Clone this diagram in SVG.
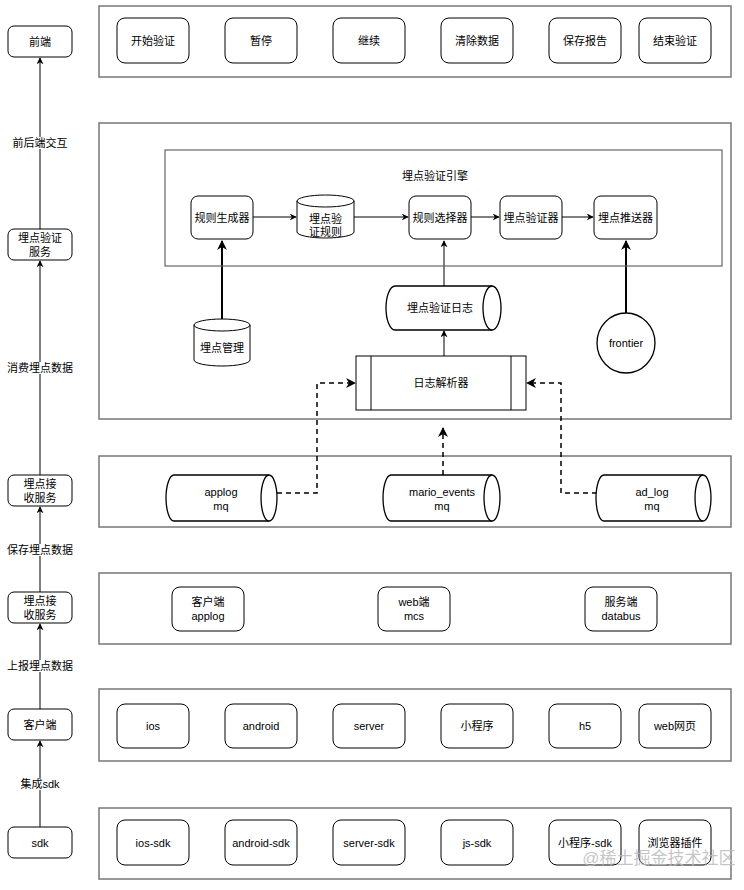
<svg xmlns="http://www.w3.org/2000/svg" width="744" height="890" viewBox="0 0 744 890">
<style>
text{font-family:"Liberation Sans","Noto Sans CJK SC",sans-serif;font-size:11px;fill:#000;text-anchor:middle;dominant-baseline:central}
.panel{fill:#fff;stroke:#777;stroke-width:1.5}
.node{fill:#fff;stroke:#000;stroke-width:1}
.shape{fill:#fff;stroke:#000;stroke-width:1.3}
.ln{fill:none;stroke:#000;stroke-width:1}
.thick{fill:none;stroke:#000;stroke-width:2}
.dash{fill:none;stroke:#000;stroke-width:1.5;stroke-dasharray:5 4}
</style>
<defs>
<marker id="ah" viewBox="0 0 10 10" refX="9" refY="5" markerWidth="7" markerHeight="7" markerUnits="userSpaceOnUse" orient="auto"><path d="M0,0 L10,5 L0,10 L3,5 Z" fill="#000"/></marker>
<marker id="ahb" viewBox="0 0 10 10" refX="9" refY="5" markerWidth="10" markerHeight="10" markerUnits="userSpaceOnUse" orient="auto"><path d="M0,0 L10,5 L0,10 L3,5 Z" fill="#000"/></marker>
</defs>
<rect width="744" height="890" fill="#fff"/>

<!-- panels -->
<g id="panels">
<rect class="panel" x="99" y="6" width="632" height="71"/>
<rect class="panel" x="99" y="123" width="632" height="296"/>
<rect class="panel" x="99" y="456" width="632" height="71"/>
<rect class="panel" x="99" y="573" width="632" height="71"/>
<rect class="panel" x="99" y="689" width="632" height="72"/>
<rect class="panel" x="99" y="808" width="632" height="71"/>
</g>

<!-- connectors -->
<g id="connectors">
<line class="ln" x1="40" y1="229" x2="40" y2="58" marker-end="url(#ah)"/>
<line class="ln" x1="40" y1="475" x2="40" y2="261" marker-end="url(#ah)"/>
<line class="ln" x1="40" y1="592" x2="40" y2="507" marker-end="url(#ah)"/>
<line class="ln" x1="40" y1="709" x2="40" y2="624" marker-end="url(#ah)"/>
<line class="ln" x1="40" y1="827" x2="40" y2="741" marker-end="url(#ah)"/>
<line class="ln" x1="253" y1="217" x2="296" y2="217" marker-end="url(#ah)"/>
<line class="ln" x1="354" y1="217" x2="408" y2="217" marker-end="url(#ah)"/>
<line class="ln" x1="471" y1="217" x2="499" y2="217" marker-end="url(#ah)"/>
<line class="ln" x1="562" y1="217" x2="593" y2="217" marker-end="url(#ah)"/>
<line class="thick" x1="222" y1="319" x2="222" y2="241" marker-end="url(#ahb)"/>
<line class="ln" x1="444" y1="286" x2="444" y2="241" marker-end="url(#ah)"/>
<line class="thick" x1="626" y1="313" x2="626" y2="241" marker-end="url(#ahb)"/>
<line class="ln" x1="444" y1="356" x2="444" y2="331" marker-end="url(#ah)"/>
<polyline class="dash" points="277,493 317,493 317,383 355,383" marker-end="url(#ahb)"/>
<polyline class="dash" points="597,493 561,493 561,383 527,383" marker-end="url(#ahb)"/>
<line class="dash" x1="443" y1="475" x2="443" y2="428" marker-end="url(#ahb)"/>
</g>

<!-- left column -->
<g id="lbl-front"><rect x="32" y="137" width="16" height="12" fill="#fff"/><text x="40" y="143">前后端交互</text></g>
<g id="lbl-consume"><rect x="32" y="362" width="16" height="12" fill="#fff"/><text x="40" y="368">消费埋点数据</text></g>
<g id="lbl-save"><rect x="32" y="544" width="16" height="12" fill="#fff"/><text x="40" y="550">保存埋点数据</text></g>
<g id="lbl-report"><rect x="32" y="660" width="16" height="12" fill="#fff"/><text x="40" y="666">上报埋点数据</text></g>
<g id="lbl-sdk"><rect x="32" y="778" width="16" height="12" fill="#fff"/><text x="40" y="784">集成sdk</text></g>

<g id="n-frontend"><rect class="node" x="8" y="26" width="64" height="31" rx="6"/><text x="40" y="41.5">前端</text></g>
<g id="n-verify-svc"><rect class="node" x="8" y="229" width="64" height="31" rx="6"/><text x="40" y="238">埋点验证</text><text x="40" y="252">服务</text></g>
<g id="n-recv1"><rect class="node" x="8" y="475" width="64" height="31" rx="6"/><text x="40" y="484">埋点接</text><text x="40" y="498">收服务</text></g>
<g id="n-recv2"><rect class="node" x="8" y="592" width="64" height="31" rx="6"/><text x="40" y="601">埋点接</text><text x="40" y="615">收服务</text></g>
<g id="n-client"><rect class="node" x="8" y="709" width="64" height="31" rx="6"/><text x="40" y="724.5">客户端</text></g>
<g id="n-sdk"><rect class="node" x="8" y="827" width="64" height="31" rx="6"/><text x="40" y="842.5">sdk</text></g>

<!-- top row -->
<g id="n-start"><rect class="node" x="117" y="18" width="72" height="45" rx="8"/><text x="153" y="40.5">开始验证</text></g>
<g id="n-pause"><rect class="node" x="225" y="18" width="72" height="45" rx="8"/><text x="261" y="40.5">暂停</text></g>
<g id="n-continue"><rect class="node" x="333" y="18" width="72" height="45" rx="8"/><text x="369" y="40.5">继续</text></g>
<g id="n-clear"><rect class="node" x="441" y="18" width="72" height="45" rx="8"/><text x="477" y="40.5">清除数据</text></g>
<g id="n-savereport"><rect class="node" x="549" y="18" width="72" height="45" rx="8"/><text x="585" y="40.5">保存报告</text></g>
<g id="n-end"><rect class="node" x="639" y="18" width="72" height="45" rx="8"/><text x="675" y="40.5">结束验证</text></g>

<!-- engine -->
<g id="engine"><rect x="165" y="150" width="557" height="116" fill="none" stroke="#666" stroke-width="1.2"/><text x="435" y="176">埋点验证引擎</text></g>
<g id="n-rulegen"><rect class="node" x="191" y="196" width="62" height="43" rx="7"/><text x="222" y="217.5">规则生成器</text></g>
<g id="n-rules"><path class="node" d="M297,201 a28.5,6 0 0 1 57,0 v31 a28.5,6 0 0 1 -57,0 Z"/><path class="ln" d="M297,201 a28.5,6 0 0 0 57,0"/><text x="325.5" y="219">埋点验</text><text x="325.5" y="232">证规则</text></g>
<g id="n-selector"><rect class="node" x="409" y="196" width="62" height="43" rx="7"/><text x="440" y="217.5">规则选择器</text></g>
<g id="n-validator"><rect class="node" x="500" y="196" width="62" height="43" rx="7"/><text x="531" y="217.5">埋点验证器</text></g>
<g id="n-pusher"><rect class="node" x="594" y="196" width="63" height="43" rx="7"/><text x="625.5" y="217.5">埋点推送器</text></g>

<g id="n-mgmt"><path class="node" d="M194,325 a28,6 0 0 1 56,0 v35 a28,6 0 0 1 -56,0 Z"/><path class="ln" d="M194,325 a28,6 0 0 0 56,0"/><text x="222" y="348">埋点管理</text></g>
<g id="n-log"><path class="shape" d="M395,286 h97 a9,22 0 0 1 0,44 h-97 a9,22 0 0 1 0,-44 Z"/><path class="shape" d="M492,286 a9,22 0 0 0 0,44"/><text x="440" y="308">埋点验证日志</text></g>
<g id="n-frontier"><ellipse class="shape" cx="626" cy="343" rx="29" ry="30"/><text x="626" y="343">frontier</text></g>
<g id="n-parser"><rect class="node" x="356" y="356" width="170" height="54" stroke="#444"/><line class="ln" x1="371" y1="356" x2="371" y2="410"/><line class="ln" x1="511" y1="356" x2="511" y2="410"/><text x="441" y="383">日志解析器</text></g>

<!-- mq row -->
<g id="n-applog-mq"><path class="shape" d="M174,475 h95 a8,23 0 0 1 0,46 h-95 a8,23 0 0 1 0,-46 Z"/><path class="shape" d="M269,475 a8,23 0 0 0 0,46"/><text x="221" y="492">applog</text><text x="221" y="506">mq</text></g>
<g id="n-mario-mq"><path class="shape" d="M391,475 h101 a8,23 0 0 1 0,46 h-101 a8,23 0 0 1 0,-46 Z"/><path class="shape" d="M492,475 a8,23 0 0 0 0,46"/><text x="442" y="492">mario_events</text><text x="442" y="506">mq</text></g>
<g id="n-adlog-mq"><path class="shape" d="M604,475 h99 a8,23 0 0 1 0,46 h-99 a8,23 0 0 1 0,-46 Z"/><path class="shape" d="M703,475 a8,23 0 0 0 0,46"/><text x="652" y="492">ad_log</text><text x="652" y="506">mq</text></g>

<!-- receive row -->
<g id="n-recv-app"><rect class="node" x="172" y="587" width="72" height="44" rx="8"/><text x="208" y="602">客户端</text><text x="208" y="616">applog</text></g>
<g id="n-recv-web"><rect class="node" x="378" y="587" width="72" height="44" rx="8"/><text x="414" y="602">web端</text><text x="414" y="616">mcs</text></g>
<g id="n-recv-srv"><rect class="node" x="585" y="587" width="72" height="44" rx="8"/><text x="621" y="602">服务端</text><text x="621" y="616">databus</text></g>

<!-- clients row -->
<g id="n-ios"><rect class="node" x="117" y="704" width="72" height="44" rx="8"/><text x="153" y="726">ios</text></g>
<g id="n-android"><rect class="node" x="225" y="704" width="72" height="44" rx="8"/><text x="261" y="726">android</text></g>
<g id="n-server"><rect class="node" x="333" y="704" width="72" height="44" rx="8"/><text x="369" y="726">server</text></g>
<g id="n-mini"><rect class="node" x="441" y="704" width="72" height="44" rx="8"/><text x="477" y="726">小程序</text></g>
<g id="n-h5"><rect class="node" x="549" y="704" width="72" height="44" rx="8"/><text x="585" y="726">h5</text></g>
<g id="n-web"><rect class="node" x="639" y="704" width="72" height="44" rx="8"/><text x="675" y="726">web网页</text></g>

<!-- sdk row -->
<g id="n-ios-sdk"><rect class="node" x="117" y="820" width="72" height="45" rx="8"/><text x="153" y="842.5">ios-sdk</text></g>
<g id="n-android-sdk"><rect class="node" x="225" y="820" width="72" height="45" rx="8"/><text x="261" y="842.5">android-sdk</text></g>
<g id="n-server-sdk"><rect class="node" x="333" y="820" width="72" height="45" rx="8"/><text x="369" y="842.5">server-sdk</text></g>
<g id="n-js-sdk"><rect class="node" x="441" y="820" width="72" height="45" rx="8"/><text x="477" y="842.5">js-sdk</text></g>
<g id="n-mini-sdk"><rect class="node" x="549" y="820" width="72" height="45" rx="8"/><text x="585" y="842.5">小程序-sdk</text></g>
<g id="n-plugin"><rect class="node" x="639" y="820" width="72" height="45" rx="8"/><text x="675" y="842.5">浏览器插件</text></g>

<text x="659" y="858" style="font-size:17px;fill:#bbb;fill-opacity:0.85">@稀土掘金技术社区</text>
</svg>
